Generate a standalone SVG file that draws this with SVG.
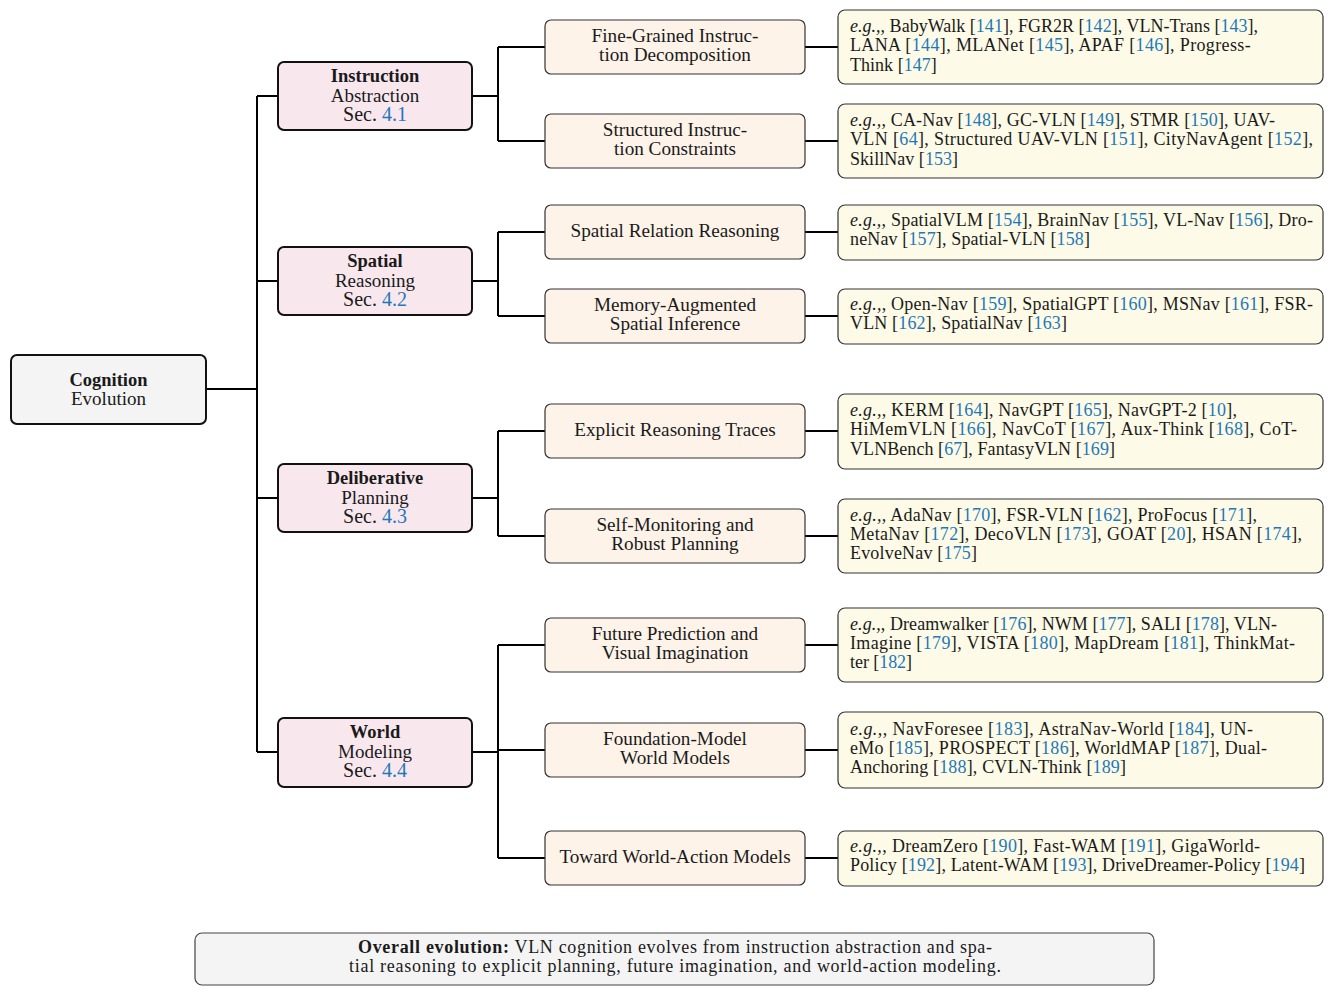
<svg xmlns="http://www.w3.org/2000/svg" width="1333" height="994" viewBox="0 0 1333 994">
<style>
text{font-family:"Liberation Serif","DejaVu Serif",serif;fill:#1a1a1a}
.c{text-anchor:middle}
.root{fill:#f4f4f4;stroke:#111;stroke-width:2}
.l1{fill:#f8e8ee;stroke:#111;stroke-width:2}
.l2{fill:#fdf3e9;stroke:#333;stroke-width:1.2}
.leaf{fill:#fdfbe7;stroke:#333;stroke-width:1.2}
.note{fill:#f4f4f4;stroke:#444;stroke-width:1.2}
.conn{stroke:#000;stroke-width:2;fill:none}
.t1{font-size:19px}
.b1{font-size:18.5px;font-weight:bold}
.sec{font-size:20px}
.t2{font-size:19.2px}
.lf{font-size:18px}
.r{fill:#1f78b8}
.i{font-style:italic}
</style>
<rect width="1333" height="994" fill="#ffffff"/>
<g id="connectors">
<path class="conn" d="M206 389H257M257 96V752M257 96H278M257 281H278M257 498H278M257 752H278"/>
<path class="conn" d="M472 96H498M498 47V141M498 47H545M498 141H545"/>
<path class="conn" d="M472 281H498M498 232V316M498 232H545M498 316H545"/>
<path class="conn" d="M472 498H498M498 431V536M498 431H545M498 536H545"/>
<path class="conn" d="M472 752H498M498 645V858M498 645H545M498 750H545M498 858H545"/>
<path class="conn" d="M805 47H838M805 141H838M805 232H838M805 316H838M805 431H838M805 536H838M805 645H838M805 750H838M805 858H838"/>
</g>
<g id="root">
<rect class="root" x="11" y="355" width="195" height="69" rx="6"/>
<text class="c b1" x="108.5" y="386">Cognition</text>
<text class="c t1" x="108.5" y="405">Evolution</text>
</g>
<g id="instruction-abstraction">
<rect class="l1" x="278" y="62" width="194" height="68" rx="6"/>
<text class="c b1" x="375" y="82">Instruction</text>
<text class="c t1" x="375" y="102">Abstraction</text>
<text class="c sec" x="375" y="121">Sec. <tspan class="r">4.1</tspan></text>
</g>
<g id="spatial-reasoning">
<rect class="l1" x="278" y="247" width="194" height="68" rx="6"/>
<text class="c b1" x="375" y="267">Spatial</text>
<text class="c t1" x="375" y="287">Reasoning</text>
<text class="c sec" x="375" y="306">Sec. <tspan class="r">4.2</tspan></text>
</g>
<g id="deliberative-planning">
<rect class="l1" x="278" y="464" width="194" height="68" rx="6"/>
<text class="c b1" x="375" y="484">Deliberative</text>
<text class="c t1" x="375" y="504">Planning</text>
<text class="c sec" x="375" y="523">Sec. <tspan class="r">4.3</tspan></text>
</g>
<g id="world-modeling">
<rect class="l1" x="278" y="718" width="194" height="69" rx="6"/>
<text class="c b1" x="375" y="738">World</text>
<text class="c t1" x="375" y="758">Modeling</text>
<text class="c sec" x="375" y="777">Sec. <tspan class="r">4.4</tspan></text>
</g>
<g id="fine-grained">
<rect class="l2" x="545" y="20" width="260" height="54" rx="6"/>
<text class="c t2" x="675" y="41.5">Fine-Grained Instruc-</text>
<text class="c t2" x="675" y="61">tion Decomposition</text>
</g>
<g id="structured">
<rect class="l2" x="545" y="114" width="260" height="54" rx="6"/>
<text class="c t2" x="675" y="135.5">Structured Instruc-</text>
<text class="c t2" x="675" y="155">tion Constraints</text>
</g>
<g id="spatial-relation">
<rect class="l2" x="545" y="205" width="260" height="54" rx="6"/>
<text class="c t2" x="675" y="237">Spatial Relation Reasoning</text>
</g>
<g id="memory-augmented">
<rect class="l2" x="545" y="289" width="260" height="54" rx="6"/>
<text class="c t2" x="675" y="310.5">Memory-Augmented</text>
<text class="c t2" x="675" y="330">Spatial Inference</text>
</g>
<g id="explicit-reasoning">
<rect class="l2" x="545" y="404" width="260" height="54" rx="6"/>
<text class="c t2" x="675" y="436">Explicit Reasoning Traces</text>
</g>
<g id="self-monitoring">
<rect class="l2" x="545" y="509" width="260" height="54" rx="6"/>
<text class="c t2" x="675" y="530.5">Self-Monitoring and</text>
<text class="c t2" x="675" y="550">Robust Planning</text>
</g>
<g id="future-prediction">
<rect class="l2" x="545" y="618" width="260" height="54" rx="6"/>
<text class="c t2" x="675" y="639.5">Future Prediction and</text>
<text class="c t2" x="675" y="659">Visual Imagination</text>
</g>
<g id="foundation-model">
<rect class="l2" x="545" y="723" width="260" height="54" rx="6"/>
<text class="c t2" x="675" y="744.5">Foundation-Model</text>
<text class="c t2" x="675" y="764">World Models</text>
</g>
<g id="toward-wam">
<rect class="l2" x="545" y="831" width="260" height="54" rx="6"/>
<text class="c t2" x="675" y="863">Toward World-Action Models</text>
</g>
<g id="leaf-fine-grained">
<rect class="leaf" x="838" y="10" width="485" height="74" rx="7"/>
<text class="lf" x="850" y="32" textLength="408"><tspan class="i">e.g.,</tspan>, BabyWalk [<tspan class="r">141</tspan>], FGR2R [<tspan class="r">142</tspan>], VLN-Trans [<tspan class="r">143</tspan>],</text>
<text class="lf" x="850" y="51.3" textLength="400.7">LANA [<tspan class="r">144</tspan>], MLANet [<tspan class="r">145</tspan>], APAF [<tspan class="r">146</tspan>], Progress-</text>
<text class="lf" x="850" y="70.6" textLength="86.7">Think [<tspan class="r">147</tspan>]</text>
</g>
<g id="leaf-structured">
<rect class="leaf" x="838" y="104" width="485" height="74" rx="7"/>
<text class="lf" x="850" y="126" textLength="425"><tspan class="i">e.g.,</tspan>, CA-Nav [<tspan class="r">148</tspan>], GC-VLN [<tspan class="r">149</tspan>], STMR [<tspan class="r">150</tspan>], UAV-</text>
<text class="lf" x="850" y="145.3" textLength="463">VLN [<tspan class="r">64</tspan>], Structured UAV-VLN [<tspan class="r">151</tspan>], CityNavAgent [<tspan class="r">152</tspan>],</text>
<text class="lf" x="850" y="164.6" textLength="108">SkillNav [<tspan class="r">153</tspan>]</text>
</g>
<g id="leaf-spatial-relation">
<rect class="leaf" x="838" y="205" width="485" height="55" rx="7"/>
<text class="lf" x="850" y="226" textLength="463"><tspan class="i">e.g.,</tspan>, SpatialVLM [<tspan class="r">154</tspan>], BrainNav [<tspan class="r">155</tspan>], VL-Nav [<tspan class="r">156</tspan>], Dro-</text>
<text class="lf" x="850" y="245" textLength="240">neNav [<tspan class="r">157</tspan>], Spatial-VLN [<tspan class="r">158</tspan>]</text>
</g>
<g id="leaf-memory-augmented">
<rect class="leaf" x="838" y="289" width="485" height="55" rx="7"/>
<text class="lf" x="850" y="310" textLength="463"><tspan class="i">e.g.,</tspan>, Open-Nav [<tspan class="r">159</tspan>], SpatialGPT [<tspan class="r">160</tspan>], MSNav [<tspan class="r">161</tspan>], FSR-</text>
<text class="lf" x="850" y="329" textLength="217">VLN [<tspan class="r">162</tspan>], SpatialNav [<tspan class="r">163</tspan>]</text>
</g>
<g id="leaf-explicit-reasoning">
<rect class="leaf" x="838" y="394" width="485" height="75" rx="7"/>
<text class="lf" x="850" y="416" textLength="387"><tspan class="i">e.g.,</tspan>, KERM [<tspan class="r">164</tspan>], NavGPT [<tspan class="r">165</tspan>], NavGPT-2 [<tspan class="r">10</tspan>],</text>
<text class="lf" x="850" y="435.3" textLength="447">HiMemVLN [<tspan class="r">166</tspan>], NavCoT [<tspan class="r">167</tspan>], Aux-Think [<tspan class="r">168</tspan>], CoT-</text>
<text class="lf" x="850" y="454.6" textLength="265">VLNBench [<tspan class="r">67</tspan>], FantasyVLN [<tspan class="r">169</tspan>]</text>
</g>
<g id="leaf-self-monitoring">
<rect class="leaf" x="838" y="499" width="485" height="74" rx="7"/>
<text class="lf" x="850" y="520.5" textLength="407"><tspan class="i">e.g.,</tspan>, AdaNav [<tspan class="r">170</tspan>], FSR-VLN [<tspan class="r">162</tspan>], ProFocus [<tspan class="r">171</tspan>],</text>
<text class="lf" x="850" y="539.8" textLength="452">MetaNav [<tspan class="r">172</tspan>], DecoVLN [<tspan class="r">173</tspan>], GOAT [<tspan class="r">20</tspan>], HSAN [<tspan class="r">174</tspan>],</text>
<text class="lf" x="850" y="559.1" textLength="127">EvolveNav [<tspan class="r">175</tspan>]</text>
</g>
<g id="leaf-future-prediction">
<rect class="leaf" x="838" y="608" width="485" height="74" rx="7"/>
<text class="lf" x="850" y="629.5" textLength="427"><tspan class="i">e.g.,</tspan>, Dreamwalker [<tspan class="r">176</tspan>], NWM [<tspan class="r">177</tspan>], SALI [<tspan class="r">178</tspan>], VLN-</text>
<text class="lf" x="850" y="648.8" textLength="445">Imagine [<tspan class="r">179</tspan>], VISTA [<tspan class="r">180</tspan>], MapDream [<tspan class="r">181</tspan>], ThinkMat-</text>
<text class="lf" x="850" y="668.1" textLength="62">ter [<tspan class="r">182</tspan>]</text>
</g>
<g id="leaf-foundation-model">
<rect class="leaf" x="838" y="712" width="485" height="76" rx="7"/>
<text class="lf" x="850" y="734.5" textLength="403"><tspan class="i">e.g.,</tspan>, NavForesee [<tspan class="r">183</tspan>], AstraNav-World [<tspan class="r">184</tspan>], UN-</text>
<text class="lf" x="850" y="753.8" textLength="417">eMo [<tspan class="r">185</tspan>], PROSPECT [<tspan class="r">186</tspan>], WorldMAP [<tspan class="r">187</tspan>], Dual-</text>
<text class="lf" x="850" y="773.1" textLength="276">Anchoring [<tspan class="r">188</tspan>], CVLN-Think [<tspan class="r">189</tspan>]</text>
</g>
<g id="leaf-toward-wam">
<rect class="leaf" x="838" y="831" width="485" height="55" rx="7"/>
<text class="lf" x="850" y="851.5" textLength="410"><tspan class="i">e.g.,</tspan>, DreamZero [<tspan class="r">190</tspan>], Fast-WAM [<tspan class="r">191</tspan>], GigaWorld-</text>
<text class="lf" x="850" y="870.8" textLength="455">Policy [<tspan class="r">192</tspan>], Latent-WAM [<tspan class="r">193</tspan>], DriveDreamer-Policy [<tspan class="r">194</tspan>]</text>
</g>
<g id="overall-note">
<rect class="note" x="195" y="933" width="959" height="52" rx="7"/>
<text class="c lf" x="675" y="953" textLength="634"><tspan font-weight="bold">Overall evolution:</tspan> VLN cognition evolves from instruction abstraction and spa-</text>
<text class="c lf" x="675" y="972" textLength="652">tial reasoning to explicit planning, future imagination, and world-action modeling.</text>
</g>
</svg>
